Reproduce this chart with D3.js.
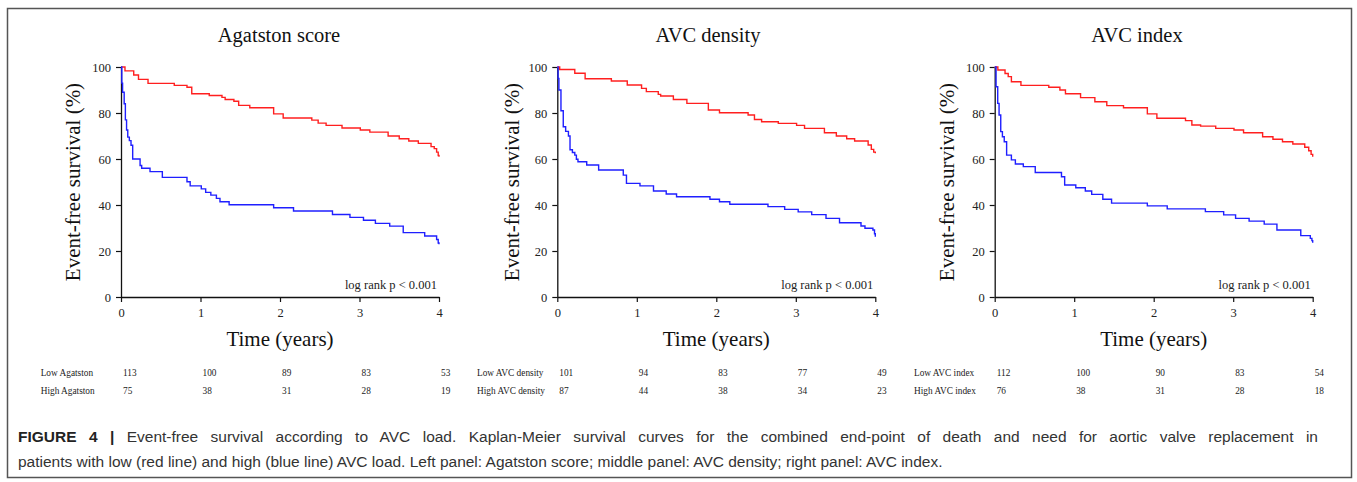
<!DOCTYPE html>
<html><head><meta charset="utf-8">
<script src="https://cdn.jsdelivr.net/npm/d3@7"></script>
<style>
html,body{margin:0;padding:0;background:#fff;}
svg{display:block;}
</style></head>
<body>
<svg id="chart" width="1357" height="482"></svg>
<script>
// ---------- data ----------
const titles = ["Agatston score", "AVC density", "AVC index"];
const lowLabels = ["Low Agatston", "Low AVC density", "Low AVC index"];
const highLabels = ["High Agatston", "High AVC density", "High AVC index"];
const lowAtRisk = [[113, 100, 89, 83, 53], [101, 94, 83, 77, 49], [112, 100, 90, 83, 54]];
const highAtRisk = [[75, 38, 31, 28, 19], [87, 44, 38, 34, 23], [76, 38, 31, 28, 18]];
const xTicks = [0, 1, 2, 3, 4];
const yTicks = [0, 20, 40, 60, 80, 100];
const pText = "log rank p < 0.001";

// [time (years), survival (%)] step points
const agatstonLow = [[0,100],[0.05,98.3],[0.16,96.5],[0.22,94.6],[0.34,92.9],[0.67,92.0],[0.83,91.2],[0.89,88.4],[1.11,87.6],[1.27,86.8],[1.31,85.9],[1.42,85.1],[1.48,83.3],[1.62,82.3],[1.92,79.6],[2.04,77.8],[2.40,76.9],[2.48,75.6],[2.58,74.6],[2.78,73.5],[3.01,72.6],[3.13,71.7],[3.36,70.0],[3.50,68.8],[3.62,67.8],[3.74,66.8],[3.90,65.4],[3.94,64.5],[3.97,63.0],[3.99,61.5],[4.0,61.0]];
const agatstonHigh = [[0,100],[0.01,93],[0.02,89],[0.04,84],[0.055,77],[0.07,72.6],[0.085,69.5],[0.105,68],[0.126,66],[0.147,60],[0.24,57.2],[0.26,56],[0.365,54.5],[0.52,52],[0.83,50.1],[0.87,48.3],[1.01,47.0],[1.065,45.5],[1.13,44.3],[1.2,42.9],[1.245,41.4],[1.36,40.1],[1.92,38.8],[2.17,37.4],[2.66,35.9],[2.88,34.6],[3.05,33.4],[3.2,32.0],[3.38,30.8],[3.55,28.0],[3.82,26.5],[3.97,25.0],[3.99,23.5],[4.0,22.9]];
const densityLow = [[0,100],[0.03,98.9],[0.22,97.3],[0.35,94.9],[0.68,93.9],[0.88,92.2],[1.06,90.7],[1.12,89.3],[1.27,88.1],[1.30,87.4],[1.46,85.9],[1.63,84.2],[1.90,81.3],[2.04,80.1],[2.40,79.1],[2.48,77.2],[2.57,76.2],[2.78,75.5],[3.01,74.6],[3.11,73.3],[3.36,71.4],[3.51,70.0],[3.64,68.8],[3.74,67.8],[3.91,66.1],[3.95,64.2],[3.98,63.0],[4.0,62.5]];
const densityHigh = [[0,100],[0.01,95],[0.02,90],[0.046,81],[0.075,74],[0.105,72],[0.14,70],[0.16,64],[0.19,62.8],[0.22,61.7],[0.24,59.9],[0.26,58.8],[0.37,57.4],[0.52,55.2],[0.83,53.0],[0.87,49.4],[1.04,48.3],[1.21,46.1],[1.37,44.8],[1.5,43.6],[1.92,42.5],[2.04,41.4],[2.17,40.3],[2.65,39.3],[2.86,38.1],[3.03,37.0],[3.2,35.8],[3.38,34.2],[3.55,32.3],[3.82,30.9],[3.87,29.9],[3.97,29.1],[3.99,27.5],[4.0,26.2]];
const indexLow = [[0,100],[0.04,98.7],[0.13,97.2],[0.17,95.8],[0.21,93.6],[0.33,92.0],[0.68,91.2],[0.82,90.0],[0.89,88.4],[1.08,86.7],[1.26,84.9],[1.41,83.2],[1.62,82.3],[1.92,79.6],[2.04,77.7],[2.40,76.7],[2.48,74.8],[2.59,74.3],[2.78,73.3],[3.01,72.6],[3.13,71.4],[3.37,69.7],[3.50,68.6],[3.62,67.5],[3.75,66.5],[3.90,65.1],[3.95,63.6],[3.98,62.0],[4.0,61.0]];
const indexHigh = [[0,100],[0.017,91.4],[0.038,84.2],[0.055,79.1],[0.076,71.9],[0.097,69.7],[0.12,67.5],[0.15,61.7],[0.21,59.6],[0.26,57.8],[0.36,56.7],[0.51,54.1],[0.84,52.3],[0.88,48.7],[1.02,47.5],[1.14,46.1],[1.22,44.6],[1.36,42.5],[1.47,40.8],[1.92,39.6],[2.17,38.3],[2.65,37.1],[2.88,35.7],[3.03,34.2],[3.2,33.0],[3.39,31.7],[3.55,29.1],[3.85,26.7],[3.97,25.5],[3.99,24.5],[4.0,23.6]];

const lowCurves = [agatstonLow, densityLow, indexLow];
const highCurves = [agatstonHigh, densityHigh, indexHigh];

const captionBold = "FIGURE 4 |";
const captionLine1 = " Event-free survival according to AVC load. Kaplan-Meier survival curves for the combined end-point of death and need for aortic valve replacement in";
const captionLine2 = "patients with low (red line) and high (blue line) AVC load. Left panel: Agatston score; middle panel: AVC density; right panel: AVC index.";

// ---------- layout ----------
const axisLeft = [121, 557.3, 994.7];
const axisWidth = 318;
const yTop = 67, yBottom = 297;
const tableLabelX = [40.7, 477, 914];
const yLabelX = [73, 511.5, 947];
const titleX = [279, 708, 1137];
const serif = "'Liberation Serif', 'Times New Roman', serif";

const svg = d3.select("#chart");

// frame
svg.append("rect").attr("x", 7.5).attr("y", 8.5).attr("width", 1344).attr("height", 469)
  .attr("fill", "none").attr("stroke", "#555").attr("stroke-width", 1.5);

titles.forEach((title, i) => {
  const x = d3.scaleLinear().domain([0, 4]).range([axisLeft[i], axisLeft[i] + axisWidth]);
  const y = d3.scaleLinear().domain([0, 100]).range([yBottom, yTop]);
  const g = svg.append("g");

  const xa = g.append("g").attr("transform", `translate(0,${yBottom})`)
    .call(d3.axisBottom(x).tickValues(xTicks).tickSize(5).tickSizeOuter(0).tickPadding(6).tickFormat(d3.format("d")));
  const ya = g.append("g").attr("transform", `translate(${axisLeft[i]},0)`)
    .call(d3.axisLeft(y).tickValues(yTicks).tickSize(5).tickSizeOuter(0).tickPadding(5).tickFormat(d3.format("d")));
  [xa, ya].forEach(a => {
    a.select(".domain").attr("stroke", "#111").attr("stroke-width", 1.3);
    a.selectAll(".tick line").attr("stroke", "#111").attr("stroke-width", 1.2);
    a.selectAll(".tick text").attr("font-family", serif).attr("font-size", 12.5).attr("fill", "#222");
  });

  const line = d3.line().x(d => x(d[0])).y(d => y(d[1])).curve(d3.curveStepAfter);
  g.append("path").datum(lowCurves[i]).attr("d", line).attr("fill", "none")
    .attr("stroke", "#ff1f1f").attr("stroke-width", 1.4);
  g.append("path").datum(highCurves[i]).attr("d", line).attr("fill", "none")
    .attr("stroke", "#1f1fff").attr("stroke-width", 1.4);

  g.append("text").attr("x", titleX[i]).attr("y", 42).attr("text-anchor", "middle")
    .attr("font-family", serif).attr("font-size", 20.5).attr("fill", "#111").text(title);
  g.append("text").attr("x", x(2)).attr("y", 346).attr("text-anchor", "middle")
    .attr("font-family", serif).attr("font-size", 21).attr("fill", "#111").text("Time (years)");
  g.append("text").attr("transform", `translate(${yLabelX[i] + 7},${(yTop + yBottom) / 2}) rotate(-90)`)
    .attr("text-anchor", "middle").attr("font-family", serif).attr("font-size", 21).attr("fill", "#111")
    .text("Event-free survival (%)");
  g.append("text").attr("x", x(4) - 2).attr("y", 289).attr("text-anchor", "end")
    .attr("font-family", serif).attr("font-size", 12.5).attr("fill", "#222").text(pText);

  const rows = [[lowLabels[i], lowAtRisk[i], 376], [highLabels[i], highAtRisk[i], 394]];
  rows.forEach(([lab, vals, yy]) => {
    g.append("text").attr("x", tableLabelX[i]).attr("y", yy).attr("font-family", serif)
      .attr("font-size", 9.3).attr("fill", "#222").text(lab);
    g.selectAll(null).data(vals).enter().append("text")
      .attr("x", (d, k) => x(xTicks[k]) + 2).attr("y", yy)
      .attr("font-family", serif).attr("font-size", 9.3).attr("fill", "#222").text(d => d);
  });
});

// caption (first line justified)
const sans = "'Liberation Sans', Arial, Helvetica, sans-serif";
const cap1 = svg.append("text").attr("x", 18).attr("y", 442).attr("font-family", sans).attr("font-size", 15.5).attr("fill", "#333");
cap1.append("tspan").attr("font-weight", "bold").attr("fill", "#222").text(captionBold);
cap1.append("tspan").text(captionLine1);
const targetRight = 1318;
const len1 = cap1.node().getComputedTextLength();
const spaces = (captionBold + captionLine1).split(" ").length - 1;
cap1.attr("word-spacing", Math.max(0, (targetRight - 18 - len1) / spaces));
svg.append("text").attr("x", 18).attr("y", 467).attr("font-family", sans).attr("font-size", 15.5).attr("fill", "#333")
  .text(captionLine2);
</script>
</body></html>
